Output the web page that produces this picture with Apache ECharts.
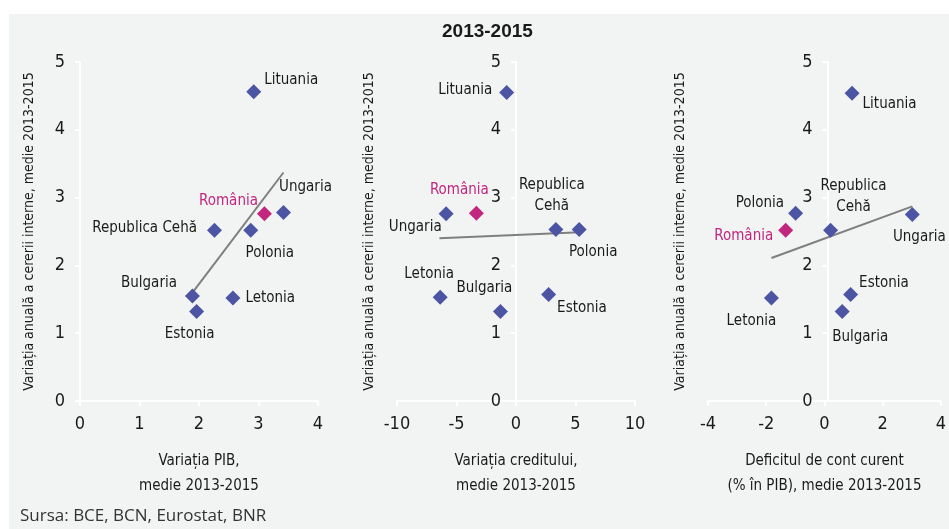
<!DOCTYPE html>
<html>
<head>
<meta charset="utf-8">
<script src="https://cdn.jsdelivr.net/npm/echarts@6/dist/echarts.min.js"></script>
<style>
    html, body { margin: 0; padding: 0; background: #ffffff; }
    #chart { width: 949px; height: 529px; }
</style>
</head>
<body>
<div id="chart"></div>
<script>
    // tari (aceeasi ordine in toate panourile)
    var countries = ["Lituania", "Ungaria", "România", "Republica Cehă", "Polonia", "Bulgaria", "Estonia", "Letonia"];

    // panoul 1: variatia PIB
    var gdpX = [2.92, 3.42, 3.10, 2.26, 2.87, 1.89, 1.96, 2.57];
    var gdpY = [4.56, 2.78, 2.76, 2.52, 2.52, 1.55, 1.32, 1.52];
    var gdpTrendX = [1.90, 3.42];
    var gdpTrendY = [1.61, 3.37];

    // panoul 2: variatia creditului
    var creditX = [-0.78, -5.87, -3.33, 3.35, 5.31, -1.31, 2.74, -6.37];
    var creditY = [4.55, 2.76, 2.77, 2.53, 2.53, 1.32, 1.57, 1.53];
    var creditTrendX = [-6.43, 5.36];
    var creditTrendY = [2.40, 2.49];

    // panoul 3: deficitul de cont curent
    var caX = [0.95, 3.02, -1.33, 0.21, -0.99, 0.61, 0.90, -1.82];
    var caY = [4.54, 2.75, 2.52, 2.52, 2.77, 1.32, 1.57, 1.52];
    var caTrendX = [-1.82, 3.02];
    var caTrendY = [2.11, 2.87];

    var title = "2013-2015";
    var yName = "Variația anuală a cererii interne, medie 2013-2015";
    var xNames = ["Variația PIB,\nmedie 2013-2015", "Variația creditului,\nmedie 2013-2015", "Deficitul de cont curent\n(% în PIB), medie 2013-2015"];
    var source = "Sursa: BCE, BCN, Eurostat, BNR";

    var BLUE = "#4b55a3";
    var MAGENTA = "#c1277f";
    var TEXT = "#1a1a1a";
    var FONT = "'Liberation Sans Narrow', 'DejaVu Sans Condensed', sans-serif";

    var grids = [
        { left: 80, top: 62, width: 238, height: 339 },
        { left: 397, top: 62, width: 238, height: 339 },
        { left: 708, top: 62, width: 239, height: 339 }
    ];

    // pozitia etichetelor: [pozitie, dx, dy, pe doua randuri]
    var labels1 = [
        ["right", -2, -12], ["top", 22, -2], ["left", 6, -13], ["left", -5, -2],
        ["bottom", 19, 0], ["left", -3, -13], ["bottom", -7, 0], ["right", 0, 0]
    ];
    var labels2 = [
        ["left", -2, -2], ["left", 8, 13], ["top", -17, 0], ["top", -4, 0, true],
        ["bottom", 14, 0], ["top", -16, 0], ["right", -4, 14], ["top", -11, 0]
    ];
    var labels3 = [
        ["right", -2, 11], ["bottom", 7, 0], ["left", 0, 6], ["top", 23, 0, true],
        ["left", 1, -10], ["bottom", 18, 3], ["right", -4, -11], ["bottom", -20, 0]
    ];

    function pairs(xs, ys) {
        return xs.map(function (x, i) {
            return [x, ys[i]];
        });
    }

    function points(xs, ys, layout) {
        return countries.map(function (name, i) {
            var ro = name == "România";
            var l = layout[i];
            return {
                name: l[3] ? "Republica\nCehă" : name,
                value: [xs[i], ys[i]],
                itemStyle: { color: ro ? MAGENTA : BLUE, opacity: 1 },
                label: {
                    position: l[0],
                    offset: [l[1], l[2]],
                    color: ro ? MAGENTA : TEXT
                }
            };
        });
    }

    function xAxis(idx, min, max, interval) {
        return {
            gridIndex: idx,
            type: "value",
            min: min,
            max: max,
            interval: interval,
            name: xNames[idx],
            nameLocation: "middle",
            nameGap: 48,
            nameTextStyle: { color: TEXT, fontSize: 15, lineHeight: 25, fontFamily: FONT },
            axisLine: { onZero: false, lineStyle: { color: "#ffffff", width: 2 } },
            axisTick: { show: true, length: 5, lineStyle: { color: "#ffffff", width: 2 } },
            axisLabel: { color: TEXT, fontSize: 18, margin: 14, fontFamily: FONT },
            splitLine: { show: false }
        };
    }

    // axa y trece prin x = 0: o mutam spre dreapta cu offset negativ
    function yAxis(idx, xMin, xMax, gap) {
        var shift = (0 - xMin) / (xMax - xMin) * grids[idx].width;
        return {
            gridIndex: idx,
            type: "value",
            min: 0,
            max: 5,
            interval: 1,
            offset: -shift,
            name: yName,
            nameLocation: "middle",
            nameGap: gap,
            nameTextStyle: { color: TEXT, fontSize: 14, fontFamily: FONT },
            axisLine: { show: true, onZero: false, lineStyle: { color: "#ffffff", width: 2 } },
            axisTick: { show: true, length: 5, lineStyle: { color: "#ffffff", width: 2 } },
            axisLabel: { color: TEXT, fontSize: 18, margin: 15, fontFamily: FONT },
            splitLine: { show: false }
        };
    }

    function trend(idx, xs, ys) {
        return {
            type: "line",
            xAxisIndex: idx,
            yAxisIndex: idx,
            data: pairs(xs, ys),
            symbol: "none",
            silent: true,
            animation: false,
            z: 1,
            lineStyle: { color: "#7f7f7f", width: 2 }
        };
    }

    function scatter(idx, xs, ys, layout) {
        return {
            type: "scatter",
            xAxisIndex: idx,
            yAxisIndex: idx,
            symbol: "diamond",
            symbolSize: 15,
            animation: false,
            z: 3,
            itemStyle: { opacity: 1 },
            label: {
                show: true,
                formatter: "{b}",
                fontSize: 15,
                lineHeight: 21,
                fontFamily: FONT
            },
            data: points(xs, ys, layout)
        };
    }

    var chart = echarts.init(document.getElementById("chart"));

    var option = {
        backgroundColor: "#ffffff",
        textStyle: { fontFamily: FONT },
        graphic: [
            {
                type: "rect",
                z: -10,
                shape: { x: 9, y: 14, width: 940, height: 515 },
                style: { fill: "#f2f3f3" }
            },
            {
                type: "text",
                left: 20,
                top: 508,
                style: {
                    text: source,
                    fill: "#333333",
                    font: "17px 'Open Sans', 'Noto Sans', sans-serif"
                }
            }
        ],
        title: {
            text: title,
            left: 437,
            top: 17,
            textStyle: { color: TEXT, fontSize: 19, fontWeight: "bold", fontFamily: "'Liberation Sans', sans-serif" }
        },
        grid: grids,
        xAxis: [
            xAxis(0, 0, 4, 1),
            xAxis(1, -10, 10, 5),
            xAxis(2, -4, 4, 2)
        ],
        yAxis: [
            yAxis(0, 0, 4, 44),
            yAxis(1, -10, 10, 140),
            yAxis(2, -4, 4, 140)
        ],
        series: [
            trend(0, gdpTrendX, gdpTrendY),
            scatter(0, gdpX, gdpY, labels1),
            trend(1, creditTrendX, creditTrendY),
            scatter(1, creditX, creditY, labels2),
            trend(2, caTrendX, caTrendY),
            scatter(2, caX, caY, labels3)
        ]
    };

    chart.setOption(option);
</script>
</body>
</html>
